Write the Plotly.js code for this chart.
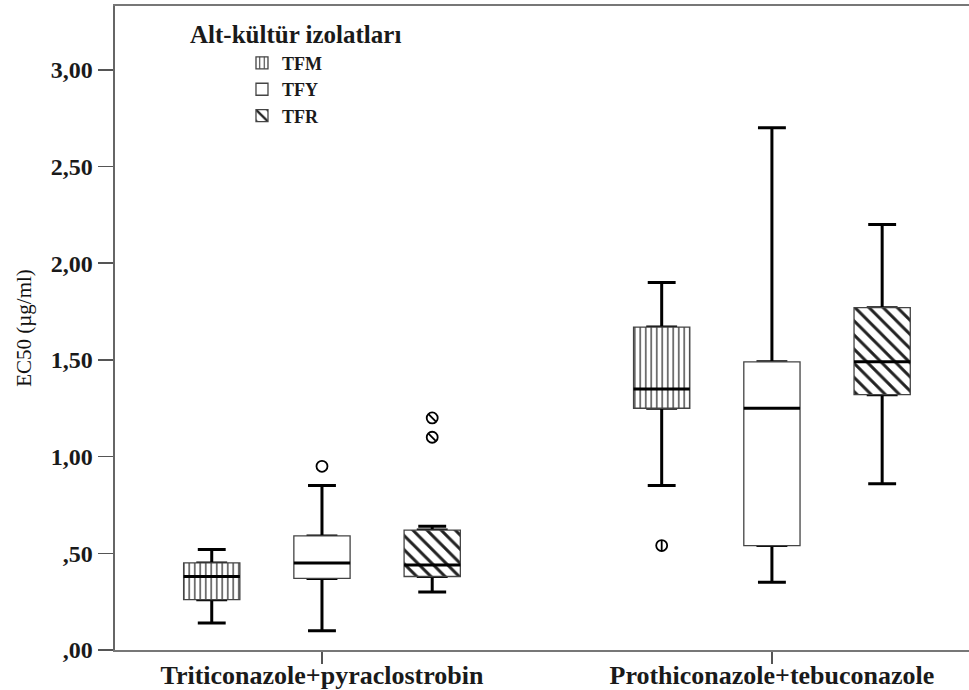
<!DOCTYPE html>
<html><head><meta charset="utf-8">
<script src="https://cdn.plot.ly/plotly-3.0.1.min.js"></script>
<style>html,body{margin:0;padding:0;background:#fff;} #chart{width:969px;height:690px;}</style>
</head><body><div id="chart"></div>
<script>
// ---- data ----
const categories = ['Triticonazole+pyraclostrobin', 'Prothiconazole+tebuconazole'];
const seriesNames = ['TFM', 'TFY', 'TFR'];

const tfmLow = [0.14, 0.85];
const tfmQ1 = [0.26, 1.25];
const tfmMedian = [0.38, 1.35];
const tfmQ3 = [0.45, 1.67];
const tfmHigh = [0.52, 1.90];
const tfmOutliers = [[], [0.54]];

const tfyLow = [0.10, 0.35];
const tfyQ1 = [0.37, 0.54];
const tfyMedian = [0.45, 1.25];
const tfyQ3 = [0.59, 1.49];
const tfyHigh = [0.85, 2.70];
const tfyOutliers = [[0.95], []];

const tfrLow = [0.30, 0.86];
const tfrQ1 = [0.38, 1.32];
const tfrMedian = [0.44, 1.49];
const tfrQ3 = [0.62, 1.77];
const tfrHigh = [0.64, 2.20];
const tfrOutliers = [[1.10, 1.20], []];

const yTickVals = [0, 0.5, 1, 1.5, 2, 2.5, 3];
const yTickText = [',00', ',50', '1,00', '1,50', '2,00', '2,50', '3,00'];

// ---- styles / layout constants ----
const SERIF = 'Liberation Serif, Times New Roman, serif';
const offsets = [-0.245, 0, 0.245];
const BOX_W = 0.125;
const CAP_W = 0.062;
const patterns = [
  {shape: '|', size: 5.5, solidity: 0.22},
  {shape: '', size: 8, solidity: 0.3},
  {shape: '\\', size: 10, solidity: 0.3}
];
const innerSymbols = ['line-ns-open', null, 'line-nw-open'];

const stats = [
  {low: tfmLow, q1: tfmQ1, med: tfmMedian, q3: tfmQ3, high: tfmHigh, out: tfmOutliers},
  {low: tfyLow, q1: tfyQ1, med: tfyMedian, q3: tfyQ3, high: tfyHigh, out: tfyOutliers},
  {low: tfrLow, q1: tfrQ1, med: tfrMedian, q3: tfrQ3, high: tfrHigh, out: tfrOutliers}
];

const groupPos = categories.map((c, i) => i + 1);
const whiskerTraces = [], bodyTraces = [], medianTraces = [], outlierTraces = [];

seriesNames.forEach((name, k) => {
  const s = stats[k];
  const xs = groupPos.map(g => g + offsets[k]);
  whiskerTraces.push({
    type: 'box', orientation: 'v', xaxis: 'x', yaxis: 'y',
    x: xs, q1: s.q1, median: s.med, q3: s.q3, lowerfence: s.low, upperfence: s.high,
    width: CAP_W, whiskerwidth: 1, boxpoints: false,
    line: {color: '#000', width: 3}, fillcolor: 'rgba(0,0,0,0)',
    showlegend: false, hoverinfo: 'skip'
  });
  bodyTraces.push({
    type: 'bar', xaxis: 'x2', yaxis: 'y2', name: name,
    x: xs, base: s.q1, y: s.q3.map((v, i) => v - s.q1[i]), width: BOX_W,
    marker: {color: '#fff', line: {color: '#444', width: 1.3},
      pattern: {shape: patterns[k].shape, size: patterns[k].size, solidity: patterns[k].solidity,
        fgcolor: '#222', bgcolor: '#fff', fillmode: 'replace'}},
    hoverinfo: 'skip'
  });
  medianTraces.push({
    type: 'box', orientation: 'v', xaxis: 'x2', yaxis: 'y2',
    x: xs, q1: s.med, median: s.med, q3: s.med, lowerfence: s.med, upperfence: s.med,
    width: BOX_W, whiskerwidth: 0, boxpoints: false,
    line: {color: '#000', width: 3}, fillcolor: 'rgba(0,0,0,0)',
    showlegend: false, hoverinfo: 'skip'
  });
  const ox = [], oy = [];
  s.out.forEach((arr, i) => arr.forEach(v => { ox.push(xs[i]); oy.push(v); }));
  if (ox.length) {
    outlierTraces.push({
      type: 'scatter', mode: 'markers', xaxis: 'x2', yaxis: 'y2', x: ox, y: oy,
      marker: {symbol: 'circle-open', size: 11, color: '#000', line: {width: 1.8, color: '#000'}},
      showlegend: false, hoverinfo: 'skip'
    });
    if (innerSymbols[k]) {
      outlierTraces.push({
        type: 'scatter', mode: 'markers', xaxis: 'x2', yaxis: 'y2', x: ox, y: oy,
        marker: {symbol: innerSymbols[k], size: 8, color: '#000', line: {width: 1.8, color: '#000'}},
        showlegend: false, hoverinfo: 'skip'
      });
    }
  }
});

const xRange = [0.54, 2.438];
const yRange = [0, 3.33];
const tickFont = {family: SERIF, size: 24, color: '#1a1a1a', weight: 'bold'};

const layout = {
  width: 969, height: 690,
  margin: {l: 115, r: 0, t: 6, b: 40},
  paper_bgcolor: '#fff', plot_bgcolor: '#fff',
  barmode: 'overlay', boxmode: 'overlay',
  showlegend: true,
  xaxis: {
    range: xRange, tickvals: groupPos, ticktext: categories,
    ticks: 'outside', ticklen: 12, tickwidth: 1.5, tickcolor: '#555',
    ticklabelstandoff: -11,
    showline: true, linecolor: '#777', linewidth: 2, mirror: true,
    showgrid: false, zeroline: false,
    tickfont: {family: SERIF, size: 26, color: '#1a1a1a', weight: 'bold'}
  },
  yaxis: {
    range: yRange, tickvals: yTickVals, ticktext: yTickText,
    ticks: 'outside', ticklen: 15, tickwidth: 1.5, tickcolor: '#555',
    showline: true, linecolor: '#666', linewidth: 2.5,
    showgrid: false, zeroline: false, tickfont: tickFont,
    title: {text: 'EC50 (µg/ml)', font: {family: SERIF, size: 21, color: '#111'}, standoff: 14}
  },
  xaxis2: {overlaying: 'x', anchor: 'y2', range: xRange, visible: false},
  yaxis2: {overlaying: 'y', anchor: 'x2', range: yRange, visible: false},
  legend: {
    x: 0.1487, xanchor: 'left', y: 0.94, yanchor: 'top',
    bgcolor: 'rgba(0,0,0,0)', traceorder: 'normal',
    font: {family: SERIF, size: 18, color: '#1a1a1a', weight: 'bold'}
  },
  annotations: [{
    text: 'Alt-kültür izolatları', xref: 'paper', yref: 'paper',
    x: 0.2108, y: 0.955, xanchor: 'center', yanchor: 'middle', showarrow: false,
    font: {family: SERIF, size: 25, color: '#1a1a1a', weight: 'bold'}
  }]
};

Plotly.newPlot('chart', whiskerTraces.concat(bodyTraces, medianTraces, outlierTraces), layout,
  {displayModeBar: false, staticPlot: true});
</script>
</body></html>
